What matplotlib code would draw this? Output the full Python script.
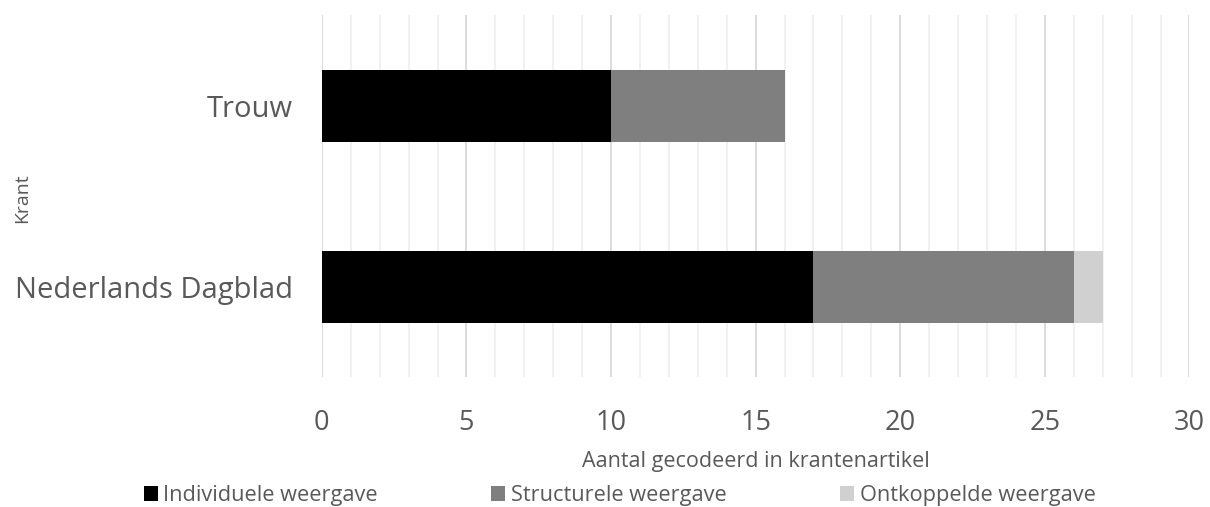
import numpy as np
import matplotlib.pyplot as plt
from matplotlib.ticker import MultipleLocator

# data
kranten = ["Nederlands Dagblad", "Trouw"]
individueel = [17, 10]
structureel = [9, 6]
ontkoppeld = [1, 0]
series_names = ["Individuele weergave", "Structurele weergave", "Ontkoppelde weergave"]
colours = ["#000000", "#7f7f7f", "#d0d0d0"]

plt.rcParams["font.family"] = ["Open Sans", "DejaVu Sans"]
text_col = "#595959"

fig = plt.figure(figsize=(12.1, 5.07), dpi=100)
ax = fig.add_axes([0.266, 0.256, 0.717, 0.714])

y = np.arange(len(kranten))
left = np.zeros(len(kranten))
for vals, name, col in zip([individueel, structureel, ontkoppeld], series_names, colours):
    ax.barh(y, vals, left=left, height=0.4, color=col, label=name, linewidth=0, zorder=3)
    left += np.array(vals)

ax.set_xlim(0, 30)
ax.set_ylim(-0.5, 1.5)
ax.xaxis.set_major_locator(MultipleLocator(5))
ax.xaxis.set_minor_locator(MultipleLocator(1))
ax.grid(axis="x", which="major", color="#d9d9d9", linewidth=1.3, zorder=0)
ax.grid(axis="x", which="minor", color="#f0f0f0", linewidth=1.3, zorder=0)
ax.set_yticks(y)
ax.set_yticklabels(kranten)
ax.tick_params(axis="x", which="both", length=0, labelsize=19.5, colors=text_col, pad=23)
ax.tick_params(axis="y", which="both", length=0, labelsize=21, colors=text_col, pad=21)
for s in ax.spines.values():
    s.set_visible(False)

ax.set_xlabel("Aantal gecodeerd in krantenartikel", fontsize=15.5, color=text_col, labelpad=10)
fig.text(0.018, 0.61, "Krant", rotation=90, ha="center", va="center", fontsize=14, color=text_col)

handles, labels = ax.get_legend_handles_labels()
fig.legend(handles, labels, loc="center", bbox_to_anchor=(0.512, 0.022), ncol=3,
           frameon=False, fontsize=15.7, handlelength=0.65, handleheight=0.65,
           handletextpad=0.25, columnspacing=5.2, labelcolor=text_col)

fig.savefig("out.png", dpi=100)
